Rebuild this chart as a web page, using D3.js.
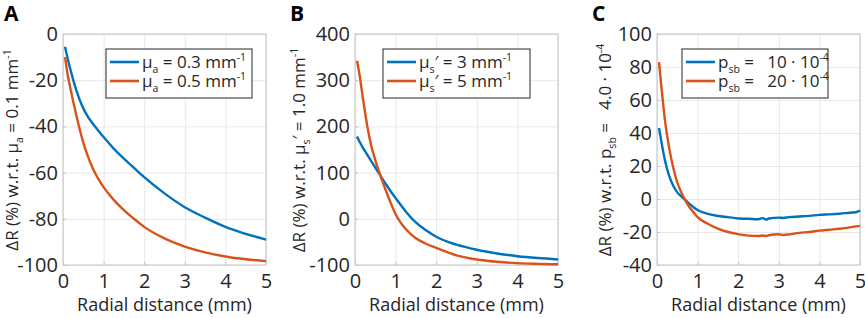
<!DOCTYPE html>
<html>
<head>
<meta charset="utf-8">
<script src="https://cdn.jsdelivr.net/npm/d3@7"></script>
<style>
  body { margin: 0; background: #fff; }
  svg { display: block; font-family: "Open Sans", sans-serif; }
  text { white-space: pre; }
</style>
</head>
<body>
<svg id="chart" width="865" height="318"></svg>
<script>
'use strict';

// shared x ticks
const xTicks = [0, 1, 2, 3, 4, 5];

// panel A / B sample positions (mm)
const distAB = [0.05, 0.1, 0.2, 0.3, 0.4, 0.5, 0.6, 0.7, 0.8, 0.9, 1.0, 1.25, 1.5, 1.75, 2.0, 2.5, 3.0, 3.5, 4.0, 4.5, 5.0];

// panel A: mu_a
const muA03 = [-5.5, -9.5, -16.5, -22.8, -28, -32.2, -35.4, -38, -40.3, -42.5, -44.6, -49.6, -54, -58, -62, -69, -75, -79.5, -83.5, -86.5, -89];
const muA05 = [-10, -16, -25, -33, -40.5, -47, -52.3, -56.8, -60.5, -63.6, -66.3, -71.8, -76.2, -80, -83.5, -88.5, -92, -94.5, -96.3, -97.5, -98.3];
const yTicksA = [0, -20, -40, -60, -80, -100];

// panel B: mu_s'
const muS3 = [178, 169, 153, 139, 125, 111, 97, 83, 70, 57, 45, 16, -8, -25, -39, -56, -67, -75, -81, -85, -88];
const muS5 = [342, 318, 258, 202, 158, 127, 100, 75, 52, 30, 10, -22, -42, -54, -63, -79, -88, -93, -96, -97.5, -98.5];
const yTicksB = [400, 300, 200, 100, 0, -100];

// panel C: p_sb
const distC = [0.05, 0.1, 0.15, 0.2, 0.3, 0.4, 0.5, 0.6, 0.7, 0.8, 0.9, 1.0, 1.25, 1.5, 1.75, 2.0, 2.25, 2.5, 2.6, 2.7, 2.75, 3.0, 3.1, 3.25, 3.5, 3.75, 4.0, 4.25, 4.5, 4.75, 4.9, 5.0];
const psb10 = [43, 36, 29, 23, 14, 8, 4, 1.5, -0.6, -3, -5, -6.7, -9, -10.3, -11, -11.8, -12, -12.3, -11.6, -12.5, -11.8, -11.3, -11.5, -11, -10.6, -10.2, -9.6, -9.3, -8.9, -8.3, -8, -7];
const psb20 = [83, 70, 58, 47, 31, 19, 10, 4, -1, -5, -8, -11, -15, -18, -20, -21.3, -22.2, -22.4, -22.1, -22.4, -22, -21.4, -21.8, -21.5, -20.5, -20, -19.2, -18.6, -18, -17.2, -16.6, -16.3];
const yTicksC = [100, 80, 60, 40, 20, 0, -20, -40];

const BLUE = '#0072BD';
const ORANGE = '#D95319';

const svg = d3.select('#chart');

function rich(sel, parts, fs) {
    let off = 0;
    parts.forEach(p => {
        const small = p.sub || p.sup;
        const target = p.sub ? fs * 0.3 : p.sup ? -fs * 0.42 : 0;
        sel.append('tspan')
            .attr('dy', target - off)
            .attr('font-size', small ? fs * 0.62 : fs)
            .text(p.t);
        off = target;
    });
}

function panel(cfg) {
    const top = 34, bottom = 265;
    const w = cfg.right - cfg.left, h = bottom - top;

    const x = d3.scaleLinear().domain([0, 5]).range([0, w]);
    const y = d3.scaleLinear().domain(cfg.yDomain).range([h, 0]);

    const g = svg.append('g').attr('transform', `translate(${cfg.left},${top})`);

    // grid
    g.append('g')
        .attr('transform', `translate(0,${h})`)
        .call(d3.axisBottom(x).tickValues(xTicks).tickSize(-h).tickFormat(''))
        .call(a => a.select('.domain').remove())
        .selectAll('line').attr('stroke', '#e8e8e8');
    g.append('g')
        .call(d3.axisLeft(y).tickValues(cfg.yTicks).tickSize(-w).tickFormat(''))
        .call(a => a.select('.domain').remove())
        .selectAll('line').attr('stroke', '#e8e8e8');

    // box
    g.append('rect')
        .attr('width', w).attr('height', h)
        .attr('fill', 'none').attr('stroke', '#c4c4c4').attr('stroke-width', 1);

    // axes with labels, ticks inward
    const xa = g.append('g')
        .attr('transform', `translate(0,${h})`)
        .call(d3.axisBottom(x).tickValues(xTicks).tickSize(-3).tickPadding(9).tickFormat(d3.format('d')));
    const ya = g.append('g')
        .call(d3.axisLeft(y).tickValues(cfg.yTicks).tickSize(-3).tickPadding(5).tickFormat(d3.format('d')));
    [xa, ya].forEach(a => {
        a.select('.domain').remove();
        a.selectAll('line').attr('stroke', '#c4c4c4');
        a.selectAll('text')
            .attr('font-family', '"Open Sans", sans-serif')
            .attr('font-size', 20)
            .attr('fill', '#262626');
    });
    ya.selectAll('text').text(d => d < 0 ? '-' + Math.abs(d) : d);

    // curves
    const line = d3.line()
        .x(d => x(d[0]))
        .y(d => y(d[1]))
        .curve(d3.curveMonotoneX);
    cfg.series.forEach(s => {
        g.append('path')
            .datum(d3.zip(cfg.dist, s.values))
            .attr('fill', 'none')
            .attr('stroke', s.color)
            .attr('stroke-width', 2.4)
            .attr('d', line);
    });

    // legend
    const lg = g.append('g').attr('transform', `translate(${cfg.legX - cfg.left},${49 - top})`);
    lg.append('rect')
        .attr('width', cfg.legW).attr('height', 49)
        .attr('fill', '#fff').attr('stroke', '#262626').attr('stroke-width', 1);
    cfg.series.forEach((s, i) => {
        const yy = 13 + i * 19;
        lg.append('line')
            .attr('x1', 4).attr('x2', 33)
            .attr('y1', yy).attr('y2', yy)
            .attr('stroke', s.color).attr('stroke-width', 2.6);
        const t = lg.append('text')
            .attr('x', 36).attr('y', yy + 6)
            .attr('fill', '#262626');
        rich(t, s.label, 17);
    });

    // x title
    svg.append('text')
        .attr('x', cfg.left + w / 2).attr('y', 311)
        .attr('text-anchor', 'middle')
        .attr('font-size', 18)
        .attr('fill', '#262626')
        .text('Radial distance (mm)');

    // y title
    const yt = svg.append('text')
        .attr('transform', `translate(${cfg.yTitleX},150) rotate(-90)`)
        .attr('text-anchor', 'middle')
        .attr('fill', '#262626');
    rich(yt, cfg.yTitle, 17);

    // panel letter
    svg.append('text')
        .attr('x', cfg.letterX).attr('y', 21)
        .attr('font-family', '"Open Sans", sans-serif')
        .attr('font-weight', 'bold')
        .attr('font-size', 21)
        .attr('fill', '#000')
        .text(cfg.letter);
}

panel({
    letter: 'A', letterX: 4,
    left: 63, right: 266,
    yDomain: [-100, 0], yTicks: yTicksA,
    dist: distAB,
    legX: 106, legW: 146,
    yTitleX: 18,
    yTitle: [{t: 'ΔR (%) w.r.t. μ'}, {t: 'a', sub: true}, {t: ' = 0.1 mm'}, {t: '-1', sup: true}],
    series: [
        {values: muA03, color: BLUE, label: [{t: 'μ'}, {t: 'a', sub: true}, {t: ' = 0.3 mm'}, {t: '-1', sup: true}]},
        {values: muA05, color: ORANGE, label: [{t: 'μ'}, {t: 'a', sub: true}, {t: ' = 0.5 mm'}, {t: '-1', sup: true}]}
    ]
});

panel({
    letter: 'B', letterX: 290,
    left: 355, right: 558,
    yDomain: [-100, 400], yTicks: yTicksB,
    dist: distAB,
    legX: 383, legW: 147,
    yTitleX: 305,
    yTitle: [{t: 'ΔR (%) w.r.t. μ'}, {t: 's', sub: true}, {t: '′ = 1.0 mm'}, {t: '-1', sup: true}],
    series: [
        {values: muS3, color: BLUE, label: [{t: 'μ'}, {t: 's', sub: true}, {t: '′ = 3 mm'}, {t: '-1', sup: true}]},
        {values: muS5, color: ORANGE, label: [{t: 'μ'}, {t: 's', sub: true}, {t: '′ = 5 mm'}, {t: '-1', sup: true}]}
    ]
});

panel({
    letter: 'C', letterX: 592,
    left: 657, right: 860,
    yDomain: [-40, 100], yTicks: yTicksC,
    dist: distC,
    legX: 682, legW: 146,
    yTitleX: 611,
    yTitle: [{t: 'ΔR (%) w.r.t. p'}, {t: 'sb', sub: true}, {t: ' =   4.0 · 10'}, {t: '-4', sup: true}],
    series: [
        {values: psb10, color: BLUE, label: [{t: 'p'}, {t: 'sb', sub: true}, {t: ' =   10 · 10'}, {t: '-4', sup: true}]},
        {values: psb20, color: ORANGE, label: [{t: 'p'}, {t: 'sb', sub: true}, {t: ' =   20 · 10'}, {t: '-4', sup: true}]}
    ]
});
</script>
</body>
</html>
